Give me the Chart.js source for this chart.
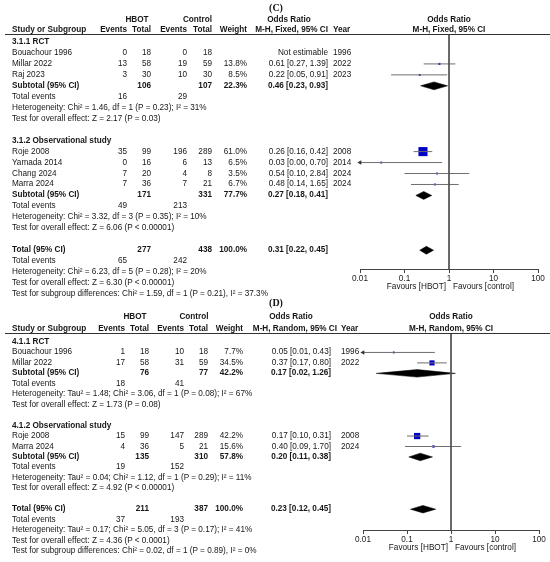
<!DOCTYPE html>
<html>
<head>
<meta charset="utf-8">
<script src="https://cdn.jsdelivr.net/npm/chart.js@4.4.1/dist/chart.umd.min.js"></script>
<style>
  html, body { margin: 0; padding: 0; background: #fff; }
  #page { position: relative; width: 550px; height: 562px; overflow: hidden;
    font-family: "Liberation Sans", Arial, sans-serif; font-size: 8.2px; color: #161616; }
  #page canvas { position: absolute; left: 0; top: 0; }
  .t { position: absolute; white-space: nowrap; line-height: 10px; height: 10px; }
  .b { font-weight: bold; }
  .r { transform: translateX(-100%); }
  .c { transform: translateX(-50%); }
  .rule { position: absolute; height: 0; border-top: 1px solid #333; }
  .title { font-family: "Liberation Serif", "Times New Roman", serif; font-weight: bold; font-size: 10px; }
</style>
</head>
<body>
<div id="page">
  <canvas id="chartC" width="550" height="562"></canvas>
  <canvas id="chartD" width="550" height="562"></canvas>
</div>
<script>
// x axis
const tickValues = [0.01, 0.1, 1, 10, 100];
const tickLabels = ['0.01', '0.1', '1', '10', '100'];

// (C) M-H fixed
const cGroups = ['3.1.1 RCT', '3.1.2 Observational study'];
const cStudies = ['Bouachour 1996', 'Millar 2022', 'Raj 2023', 'Roje 2008', 'Yamada 2014', 'Chang 2024', 'Marra 2024'];
const cStudyGroup = [0, 0, 0, 1, 1, 1, 1];
const cHbotEvents = [0, 13, 3, 35, 0, 7, 7];
const cHbotTotal = [18, 58, 30, 99, 16, 20, 36];
const cCtrlEvents = [0, 19, 10, 196, 6, 4, 7];
const cCtrlTotal = [18, 59, 30, 289, 13, 8, 21];
const cWeight = [null, 13.8, 8.5, 61.0, 6.5, 3.5, 6.7];
const cOR = [null, 0.61, 0.22, 0.26, 0.03, 0.54, 0.48];
const cLow = [null, 0.27, 0.05, 0.16, 0.00, 0.10, 0.14];
const cHigh = [null, 1.39, 0.91, 0.42, 0.70, 2.84, 1.65];
const cYear = [1996, 2022, 2023, 2008, 2014, 2024, 2024];
// subtotal 1, subtotal 2, total
const cSubHbotTotal = [106, 171, 277];
const cSubCtrlTotal = [107, 331, 438];
const cSubWeight = [22.3, 77.7, 100.0];
const cSubOR = [0.46, 0.27, 0.31];
const cSubLow = [0.23, 0.18, 0.22];
const cSubHigh = [0.93, 0.41, 0.45];
const cSubHbotEvents = [16, 49, 65];
const cSubCtrlEvents = [29, 213, 242];
const cHet = [
  'Heterogeneity: Chi\u00b2 = 1.46, df = 1 (P = 0.23); I\u00b2 = 31%',
  'Heterogeneity: Chi\u00b2 = 3.32, df = 3 (P = 0.35); I\u00b2 = 10%',
  'Heterogeneity: Chi\u00b2 = 6.23, df = 5 (P = 0.28); I\u00b2 = 20%'
];
const cEffect = [
  'Test for overall effect: Z = 2.17 (P = 0.03)',
  'Test for overall effect: Z = 6.06 (P < 0.00001)',
  'Test for overall effect: Z = 6.30 (P < 0.00001)'
];
const cSubgroupTest = 'Test for subgroup differences: Chi\u00b2 = 1.59, df = 1 (P = 0.21), I\u00b2 = 37.3%';

// (D) M-H random
const dGroups = ['4.1.1 RCT', '4.1.2 Observational study'];
const dStudies = ['Bouachour 1996', 'Millar 2022', 'Roje 2008', 'Marra 2024'];
const dStudyGroup = [0, 0, 1, 1];
const dHbotEvents = [1, 17, 15, 4];
const dHbotTotal = [18, 58, 99, 36];
const dCtrlEvents = [10, 31, 147, 5];
const dCtrlTotal = [18, 59, 289, 21];
const dWeight = [7.7, 34.5, 42.2, 15.6];
const dOR = [0.05, 0.37, 0.17, 0.40];
const dLow = [0.01, 0.17, 0.10, 0.09];
const dHigh = [0.43, 0.80, 0.31, 1.70];
const dYear = [1996, 2022, 2008, 2024];
const dSubHbotTotal = [76, 135, 211];
const dSubCtrlTotal = [77, 310, 387];
const dSubWeight = [42.2, 57.8, 100.0];
const dSubOR = [0.17, 0.20, 0.23];
const dSubLow = [0.02, 0.11, 0.12];
const dSubHigh = [1.26, 0.38, 0.45];
const dSubHbotEvents = [18, 19, 37];
const dSubCtrlEvents = [41, 152, 193];
const dHet = [
  'Heterogeneity: Tau\u00b2 = 1.48; Chi\u00b2 = 3.06, df = 1 (P = 0.08); I\u00b2 = 67%',
  'Heterogeneity: Tau\u00b2 = 0.04; Chi\u00b2 = 1.12, df = 1 (P = 0.29); I\u00b2 = 11%',
  'Heterogeneity: Tau\u00b2 = 0.17; Chi\u00b2 = 5.05, df = 3 (P = 0.17); I\u00b2 = 41%'
];
const dEffect = [
  'Test for overall effect: Z = 1.73 (P = 0.08)',
  'Test for overall effect: Z = 4.92 (P < 0.00001)',
  'Test for overall effect: Z = 4.36 (P < 0.0001)'
];
const dSubgroupTest = 'Test for subgroup differences: Chi\u00b2 = 0.02, df = 1 (P = 0.89), I\u00b2 = 0%';

const FONT = 'Liberation Sans';
const page = document.getElementById('page');

function put(text, x, y, align, cls) {
  const d = document.createElement('div');
  d.className = 't' + (align === 'right' ? ' r' : align === 'center' ? ' c' : '') + (cls ? ' ' + cls : '');
  d.textContent = text;
  d.style.left = x + 'px';
  d.style.top = (y - 5) + 'px';
  page.appendChild(d);
}

function rule(x1, x2, y) {
  const d = document.createElement('div');
  d.className = 'rule';
  d.style.left = x1 + 'px';
  d.style.width = (x2 - x1) + 'px';
  d.style.top = y + 'px';
  page.appendChild(d);
}

const fmt2 = v => v.toFixed(2);
const ciText = (o, l, h) => fmt2(o) + ' [' + fmt2(l) + ', ' + fmt2(h) + ']';

function buildPanel(p, L) {
  // rows: heading, studies, subtotal, total events, heterogeneity, effect, blank
  let row = 0;
  const studyRow = [], subRow = [], lines = [];
  p.groups.forEach((g, gi) => {
    lines.push({ kind: 'heading', row: row++, gi });
    p.studies.forEach((s, i) => { if (p.group[i] === gi) studyRow[i] = row++; });
    subRow[gi] = row++;
    lines.push({ kind: 'events', row: row++, gi });
    lines.push({ kind: 'het', row: row++, gi });
    lines.push({ kind: 'effect', row: row++, gi });
    row++;
  });
  const gt = p.groups.length;
  subRow[gt] = row++;
  lines.push({ kind: 'events', row: row++, gi: gt });
  lines.push({ kind: 'het', row: row++, gi: gt });
  lines.push({ kind: 'effect', row: row++, gi: gt });
  lines.push({ kind: 'subgroup', row: row++ });

  const yMin = (L.top - L.row0) / L.step;
  const yMax = (L.axis - L.row0) / L.step;
  const xMin = tickValues[0];
  const AXIS_H = 20;

  const datasets = [];
  datasets.push({
    data: [{ x: 1, y: yMin }, { x: 1, y: yMax }],
    showLine: true, borderColor: '#555', borderWidth: 1, pointRadius: 0
  });
  p.studies.forEach((s, i) => {
    if (p.or[i] == null) return;
    const arrow = p.low[i] <= xMin;
    datasets.push({
      data: [{ x: Math.max(p.low[i], xMin), y: studyRow[i] }, { x: p.high[i], y: studyRow[i] }],
      showLine: true, borderColor: '#6e6e6e', borderWidth: 1,
      pointRadius: [arrow ? 2.6 : 0, 0], pointStyle: 'triangle', rotation: -90,
      pointBackgroundColor: '#333', pointBorderWidth: 0
    });
  });
  const sq = [], sqR = [];
  p.studies.forEach((s, i) => {
    if (p.or[i] == null) return;
    sq.push({ x: p.or[i], y: studyRow[i] });
    sqR.push(Math.max(1.3, p.weight[i] * 0.105));
  });
  datasets.push({
    data: sq, pointStyle: 'rect', pointRadius: sqR,
    pointBackgroundColor: '#0000c8', pointBorderWidth: 0
  });
  p.subOR.forEach((o, k) => {
    const r = subRow[k], lo = p.subLow[k], hi = p.subHigh[k];
    datasets.push({
      data: [{ x: lo, y: r }, { x: o, y: r - 0.36 }, { x: hi, y: r }, { x: o, y: r + 0.36 }, { x: lo, y: r }],
      showLine: true, fill: 'shape', backgroundColor: '#000', borderColor: '#000',
      borderWidth: 0.5, pointRadius: 0
    });
  });
  datasets.forEach(d => { d.clip = false; });

  const chart = new Chart(document.getElementById(L.canvas), {
    type: 'scatter',
    data: { datasets },
    options: {
      responsive: false,
      animation: false,
      events: [],
      layout: { padding: { left: L.left, right: 550 - L.right, top: L.top, bottom: 562 - L.axis - AXIS_H } },
      plugins: { legend: { display: false }, tooltip: { enabled: false } },
      scales: {
        x: {
          type: 'logarithmic', min: tickValues[0], max: tickValues[tickValues.length - 1],
          afterBuildTicks: s => { s.ticks = tickValues.map(v => ({ value: v })); },
          afterFit: s => { s.height = AXIS_H; },
          ticks: {
            callback: (v, i) => tickLabels[i], autoSkip: false, maxRotation: 0,
            padding: 1, color: '#222', font: { family: FONT, size: 8.2 }
          },
          grid: { drawOnChartArea: false, tickLength: 4, color: '#444' },
          border: { color: '#444' }
        },
        y: { type: 'linear', min: yMin, max: yMax, reverse: true, display: false }
      }
    }
  });

  const ys = r => chart.scales.y.getPixelForValue(r);
  const x1 = chart.scales.x.getPixelForValue(1);
  const C = L.cols;

  // headers
  put(L.label, 276, L.titleY, 'center', 'title');
  put('HBOT', (C.e1 + C.t1) / 2 - 2, L.headY1, 'center', 'b');
  put('Control', (C.e2 + C.t2) / 2 - 2, L.headY1, 'center', 'b');
  put('Odds Ratio', C.orC, L.headY1, 'center', 'b');
  put('Odds Ratio', x1, L.headY1, 'center', 'b');
  put('Study or Subgroup', C.study, L.headY2, 'left', 'b');
  put('Events', C.e1, L.headY2, 'right', 'b');
  put('Total', C.t1, L.headY2, 'right', 'b');
  put('Events', C.e2, L.headY2, 'right', 'b');
  put('Total', C.t2, L.headY2, 'right', 'b');
  put('Weight', C.w, L.headY2, 'right', 'b');
  put(p.method, C.orHead, L.headY2, 'right', 'b');
  put('Year', C.year, L.headY2, 'left', 'b');
  put(p.method, x1, L.headY2, 'center', 'b');
  rule(5, 550, L.top);

  p.studies.forEach((s, i) => {
    const y = ys(studyRow[i]);
    put(s, C.study, y, 'left');
    put(String(p.he[i]), C.e1, y, 'right');
    put(String(p.ht[i]), C.t1, y, 'right');
    put(String(p.ce[i]), C.e2, y, 'right');
    put(String(p.ct[i]), C.t2, y, 'right');
    if (p.weight[i] != null) put(p.weight[i].toFixed(1) + '%', C.w, y, 'right');
    put(p.or[i] == null ? 'Not estimable' : ciText(p.or[i], p.low[i], p.high[i]), C.or, y, 'right');
    put(String(p.year[i]), C.year, y, 'left');
  });
  p.subOR.forEach((o, k) => {
    const y = ys(subRow[k]);
    put(k === gt ? 'Total (95% CI)' : 'Subtotal (95% CI)', C.study, y, 'left', 'b');
    put(String(p.subHt[k]), C.t1, y, 'right', 'b');
    put(String(p.subCt[k]), C.t2, y, 'right', 'b');
    put(p.subWeight[k].toFixed(1) + '%', C.w, y, 'right', 'b');
    put(ciText(o, p.subLow[k], p.subHigh[k]), C.or, y, 'right', 'b');
  });
  lines.forEach(ln => {
    const y = ys(ln.row);
    if (ln.kind === 'heading') put(p.groups[ln.gi], C.study, y, 'left', 'b');
    if (ln.kind === 'events') {
      put('Total events', C.study, y, 'left');
      put(String(p.subHe[ln.gi]), C.e1, y, 'right');
      put(String(p.subCe[ln.gi]), C.e2, y, 'right');
    }
    if (ln.kind === 'het') put(p.het[ln.gi], C.study, y, 'left');
    if (ln.kind === 'effect') put(p.effect[ln.gi], C.study, y, 'left');
    if (ln.kind === 'subgroup') put(p.subgroupTest, C.study, y, 'left');
  });
  put('Favours [HBOT]', x1 - 3, L.favY, 'right');
  put('Favours [control]', x1 + 4, L.favY, 'left');
}

buildPanel({
  method: 'M-H, Fixed, 95% CI', groups: cGroups, studies: cStudies, group: cStudyGroup,
  he: cHbotEvents, ht: cHbotTotal, ce: cCtrlEvents, ct: cCtrlTotal, weight: cWeight,
  or: cOR, low: cLow, high: cHigh, year: cYear,
  subHt: cSubHbotTotal, subCt: cSubCtrlTotal, subWeight: cSubWeight, subOR: cSubOR,
  subLow: cSubLow, subHigh: cSubHigh, subHe: cSubHbotEvents, subCe: cSubCtrlEvents,
  het: cHet, effect: cEffect, subgroupTest: cSubgroupTest
}, {
  canvas: 'chartC', label: '(C)', left: 360, right: 538, top: 34, axis: 269,
  row0: 42, step: 10.96, titleY: 8, headY1: 20, headY2: 30, favY: 287,
  cols: { study: 12, e1: 127, t1: 151, e2: 187, t2: 212, w: 247, or: 328, orHead: 328, orC: 289, year: 333 }
});

buildPanel({
  method: 'M-H, Random, 95% CI', groups: dGroups, studies: dStudies, group: dStudyGroup,
  he: dHbotEvents, ht: dHbotTotal, ce: dCtrlEvents, ct: dCtrlTotal, weight: dWeight,
  or: dOR, low: dLow, high: dHigh, year: dYear,
  subHt: dSubHbotTotal, subCt: dSubCtrlTotal, subWeight: dSubWeight, subOR: dSubOR,
  subLow: dSubLow, subHigh: dSubHigh, subHe: dSubHbotEvents, subCe: dSubCtrlEvents,
  het: dHet, effect: dEffect, subgroupTest: dSubgroupTest
}, {
  canvas: 'chartD', label: '(D)', left: 363, right: 539, top: 333, axis: 530,
  row0: 342, step: 10.45, titleY: 303, headY1: 317, headY2: 329, favY: 548,
  cols: { study: 12, e1: 125, t1: 149, e2: 184, t2: 208, w: 243, or: 331, orHead: 337, orC: 291, year: 341 }
});
</script>
</body>
</html>
